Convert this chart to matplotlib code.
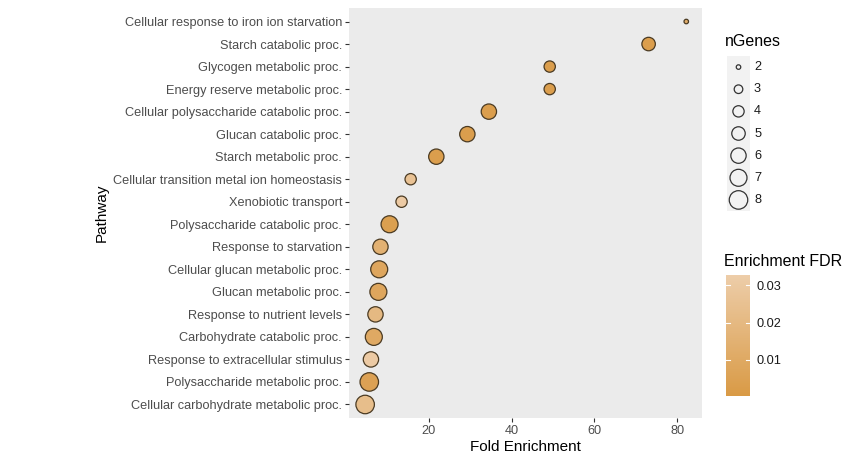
import numpy as np
import matplotlib
matplotlib.use("Agg")
import matplotlib.pyplot as plt
from matplotlib.colors import LinearSegmentedColormap, Normalize

plt.rcParams['font.family'] = ['Liberation Sans', 'DejaVu Sans']

pathways = [
    "Cellular response to iron ion starvation",
    "Starch catabolic proc.",
    "Glycogen metabolic proc.",
    "Energy reserve metabolic proc.",
    "Cellular polysaccharide catabolic proc.",
    "Glucan catabolic proc.",
    "Starch metabolic proc.",
    "Cellular transition metal ion homeostasis",
    "Xenobiotic transport",
    "Polysaccharide catabolic proc.",
    "Response to starvation",
    "Cellular glucan metabolic proc.",
    "Glucan metabolic proc.",
    "Response to nutrient levels",
    "Carbohydrate catabolic proc.",
    "Response to extracellular stimulus",
    "Polysaccharide metabolic proc.",
    "Cellular carbohydrate metabolic proc.",
]
fold = [82.2, 73.1, 49.2, 49.2, 34.5, 29.3, 21.8, 15.6, 13.4, 10.5,
        8.3, 8.0, 7.8, 7.1, 6.7, 6.0, 5.6, 4.6]
ngenes = [2, 5, 4, 4, 6, 6, 6, 4, 4, 7, 6, 7, 7, 6, 7, 6, 8, 8]
fdr = [0.012, 0.003, 0.003, 0.003, 0.003, 0.003, 0.003, 0.026, 0.031, 0.004,
       0.015, 0.008, 0.008, 0.020, 0.010, 0.031, 0.005, 0.023]
size_levels = [2, 3, 4, 5, 6, 7, 8]
fdr_ticks = [0.01, 0.02, 0.03]
x_ticks = [20, 40, 60, 80]

W, H = 863, 461
fig = plt.figure(figsize=(W / 100, H / 100), dpi=100)

def fx(px):
    return px / W

def fy(py):
    return 1 - py / H

# size mapping (area-proportional like ggplot scale_size)
d_min, d_max = 4.5, 18.5  # px
def size_pts2(n):
    n = np.asarray(n, dtype=float)
    d = np.sqrt(d_min**2 + (n - 2) / 6.0 * (d_max**2 - d_min**2))
    return (d * 0.72) ** 2

cmap = LinearSegmentedColormap.from_list("fdr", ["#D99A45", "#EDCDA9"])
norm = Normalize(vmin=0.0003, vmax=0.0328)

ax = fig.add_axes([fx(349), fy(418), fx(702 - 349), (418 - 8) / H])
ax.set_facecolor("#EBEBEB")
y = np.arange(len(pathways))
ax.scatter(fold, y, s=size_pts2(ngenes), c=fdr, cmap=cmap, norm=norm,
           edgecolors="#4a3a22", linewidths=0.9, zorder=3)
ax.set_ylim(len(pathways) - 0.4, -0.6)
ax.set_xlim(0.7, 86.0)
ax.set_yticks(y)
ax.set_yticklabels(pathways, fontsize=9.2, color="#4D4D4D")
ax.set_xticks(x_ticks)
ax.set_xticklabels([str(t) for t in x_ticks], fontsize=9.2, color="#4D4D4D")
ax.tick_params(axis="both", length=3, width=0.8, color="#333333", pad=2)
for s in ax.spines.values():
    s.set_visible(False)
ax.set_xlabel("Fold Enrichment", fontsize=11, labelpad=2)
ax.set_ylabel("Pathway", fontsize=11, labelpad=3)

# size legend
fig.text(fx(725), fy(42), "nGenes", fontsize=11.5, va="center", ha="left")
lax = fig.add_axes([fx(727), fy(211), fx(750 - 727), (211 - 56) / H])
lax.set_facecolor("#F2F2F2")
ly = np.arange(len(size_levels))
lax.scatter(np.zeros(len(size_levels)), ly, s=size_pts2(size_levels),
            facecolors="none", edgecolors="#333333", linewidths=0.9)
lax.set_xlim(-1, 1)
lax.set_ylim(len(size_levels) - 0.5, -0.5)
lax.set_xticks([])
lax.set_yticks([])
for s in lax.spines.values():
    s.set_visible(False)
for i, lv in enumerate(size_levels):
    lax.text(1.35, i, str(lv), fontsize=9.2, va="center", ha="left",
             color="#1a1a1a", transform=lax.transData, clip_on=False)

# colorbar legend
fig.text(fx(724), fy(262), "Enrichment FDR", fontsize=11.5, va="center", ha="left")
cax = fig.add_axes([fx(726), fy(396), fx(750 - 726), (396 - 275) / H])
sm = plt.cm.ScalarMappable(cmap=cmap, norm=norm)
cb = fig.colorbar(sm, cax=cax)
cb.outline.set_visible(False)
cb.set_ticks(fdr_ticks)
cb.set_ticklabels([f"{t:.2f}" for t in fdr_ticks])
cax.tick_params(labelsize=9.2, length=0, pad=5, labelcolor="#1a1a1a")
for t in fdr_ticks:
    cax.plot([0, 0.18], [t, t], color="white", lw=0.8, transform=cax.get_yaxis_transform())
    cax.plot([0.82, 1.0], [t, t], color="white", lw=0.8, transform=cax.get_yaxis_transform())

fig.savefig("out.png", dpi=100)
